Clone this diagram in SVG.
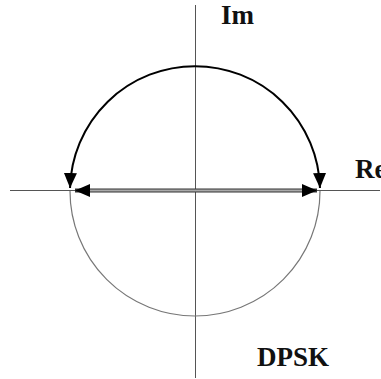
<svg xmlns="http://www.w3.org/2000/svg" width="381" height="379" viewBox="0 0 381 379">
  <style>
    .lbl { font-family: "Liberation Serif", "Times New Roman", serif; font-weight: bold; font-size: 27px; fill: #111; }
    .axis { stroke: #555; stroke-width: 1; fill: none; }
  </style>
  <defs>
    <marker id="ah" markerUnits="userSpaceOnUse" markerWidth="16" markerHeight="14" refX="15" refY="6.5" orient="auto-start-reverse">
      <path d="M0,0 L15,6.5 L0,13 z" fill="#000"/>
    </marker>
  </defs>
  <g id="axes">
    <line class="axis" x1="195.5" y1="5" x2="195.5" y2="378"/>
    <line class="axis" x1="10" y1="190.5" x2="380" y2="190.5"/>
  </g>
  <g id="circle">
    <path d="M 70 191 A 125 125 0 0 0 320 191" fill="none" stroke="#777" stroke-width="1.2"/>
  </g>
  <g id="connectors">
    <path d="M 70.04 188 A 125 125 0 0 1 319.96 188" fill="none" stroke="#000" stroke-width="2" marker-start="url(#ah)" marker-end="url(#ah)"/>
    <line x1="75" y1="190.5" x2="317" y2="190.5" stroke="#333" stroke-width="4" marker-start="url(#ah)" marker-end="url(#ah)"/>
    <line x1="90" y1="190.5" x2="302" y2="190.5" stroke="#aaa" stroke-width="2"/>
  </g>
  <g id="labels">
    <text class="lbl" x="221" y="24">Im</text>
    <text class="lbl" x="355" y="178">Re</text>
    <text class="lbl" x="257" y="366">DPSK</text>
  </g>
</svg>
